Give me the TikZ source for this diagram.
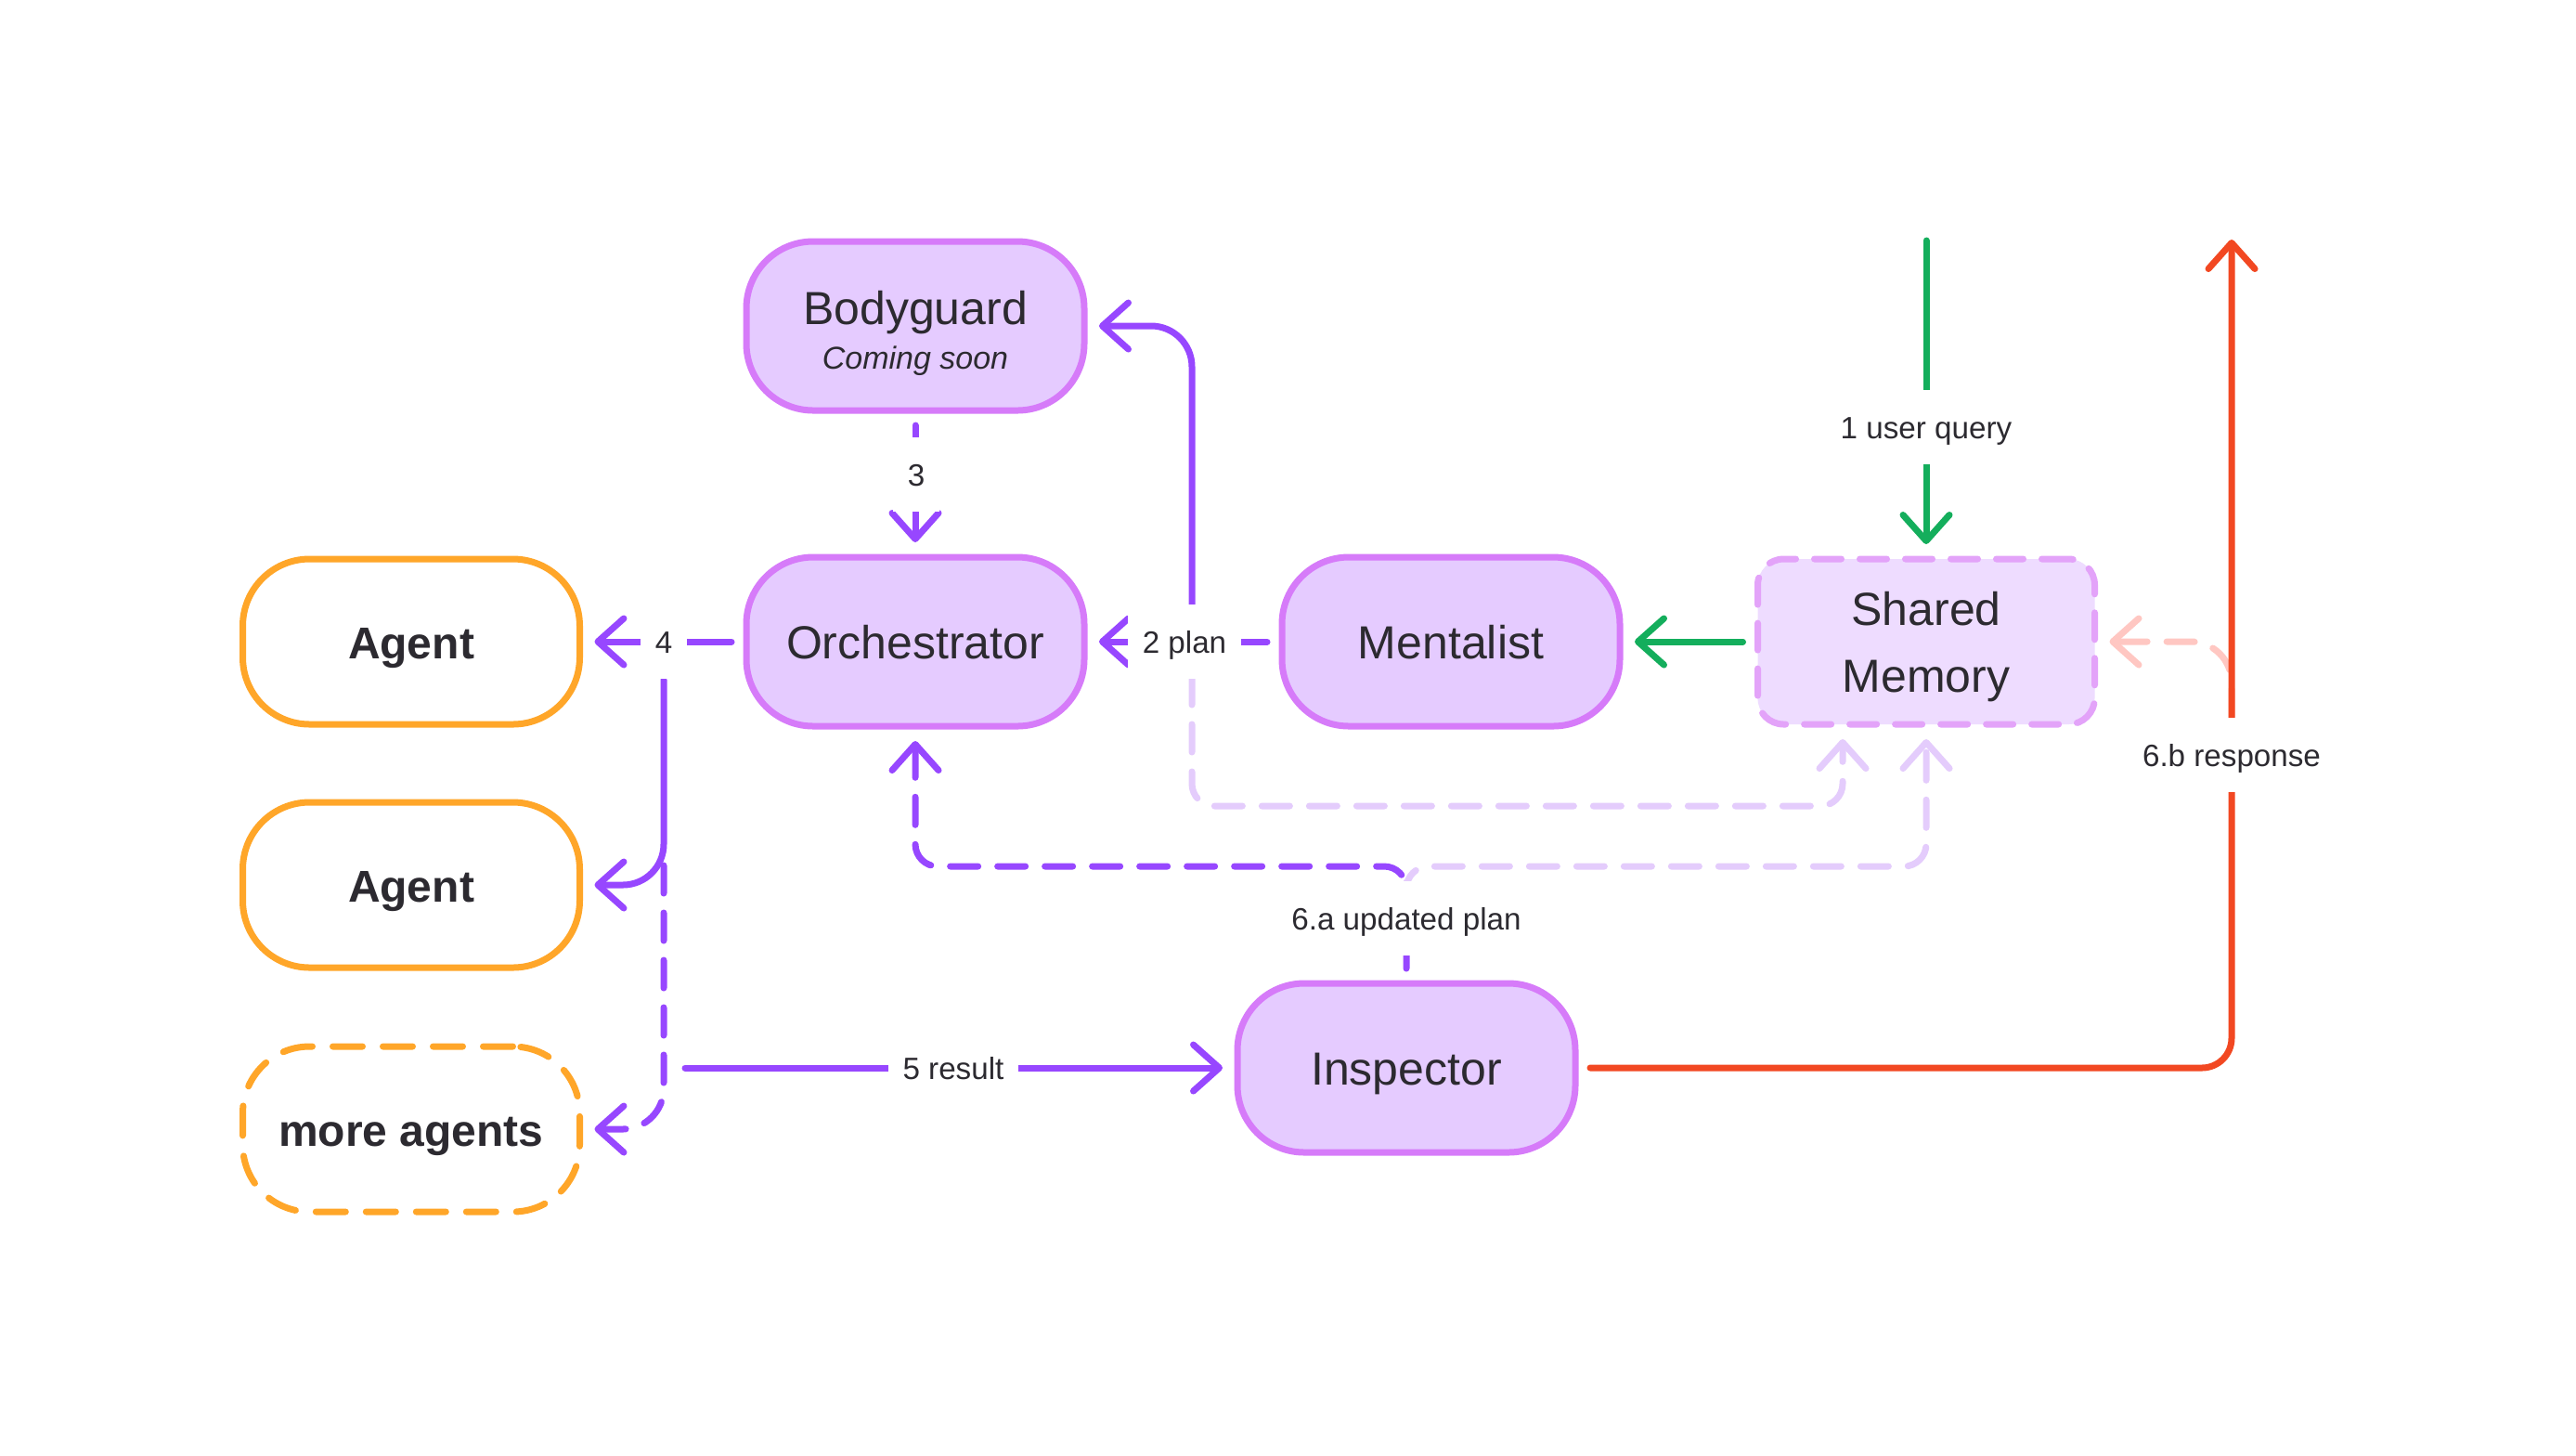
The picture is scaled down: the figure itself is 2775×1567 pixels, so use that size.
\documentclass[tikz,border=0pt]{standalone}
\usepackage{fontspec}
\setmainfont{Liberation Sans}
\usetikzlibrary{arrows.meta}
\pgfdeclarelayer{bgl}
\pgfsetlayers{bgl,main}
\definecolor{pfill}{HTML}{E5CBFF}
\definecolor{pline}{HTML}{D67BF9}
\definecolor{parrow}{HTML}{9747FF}
\definecolor{plight}{HTML}{E4CCFC}
\definecolor{smfill}{HTML}{EEDCFF}
\definecolor{smline}{HTML}{E3A3F9}
\definecolor{grn}{HTML}{14AE5C}
\definecolor{rd}{HTML}{F24822}
\definecolor{org}{HTML}{FFA629}
\definecolor{pk}{HTML}{FFC7C2}
\definecolor{txt}{HTML}{2C2A30}
\tikzset{
  basebox/.style={draw=pline, fill=pfill, line width=1.75pt, rounded corners=18pt,
    minimum width=91pt, minimum height=45.5pt, inner sep=0pt, outer sep=4pt, text=txt,
    font=\fontsize{12.5}{15}\selectfont},
  box/.style={basebox, text height=9pt, text depth=0pt},
  agentbox/.style={box, draw=org, fill=white, minimum width=90.75pt, minimum height=44.5pt,
    font=\bfseries\fontsize{12}{15}\selectfont},
  membox/.style={basebox, draw=smline, fill=smfill, rounded corners=7pt,
    minimum width=90.75pt, minimum height=44.5pt, dash pattern=on 7.25pt off 5pt,
    line cap=round, align=center, font=\fontsize{12.5}{18}\selectfont, text depth=0pt},
  lbl/.style={fill=white, inner xsep=4pt, inner ysep=7pt, text=txt,
    font=\fontsize{8.3}{10}\selectfont, text height=6pt, text depth=0pt},
  conn/.style={line width=1.75pt, line cap=round, line join=round,
    -{Straight Barb[length=7pt,width=12.5pt,round]}},
  dsh/.style={dash pattern=on 7.5pt off 5.25pt},
  pa/.style={conn, draw=parrow},
}
\begin{document}
\begin{tikzpicture}[x=0.25pt,y=-0.25pt]
\useasboundingbox (0,0) rectangle (2775,1567);
% boxes
\node[box] (bg) at (986,351) {};
\node[anchor=base, text=txt, font=\fontsize{12.5}{15}\selectfont, inner sep=0pt] (bgt) at (986,349) {Bodyguard};
\node[anchor=base, text=txt, font=\itshape\fontsize{8.5}{10}\selectfont, inner sep=0pt] (bgs) at (986,397) {Coming soon};
\node[box] (orch) at (986,691) {Orchestrator};
\node[box] (ment) at (1563,691) {Mentalist};
\node[membox] (sm) at (2075,691) {Shared\\Memory};
\node[box] (insp) at (1515,1150) {Inspector};
\node[agentbox] (ag1) at (443,691) {Agent};
\node[agentbox] (ag2) at (443,953) {Agent};
\node[agentbox, dash pattern=on 8pt off 5.5pt, line cap=round] (more) at (443,1216) {more agents};
% labels
\node[lbl] (l1) at (2075,460) {1 user query};
\node[lbl] (l2) at (1276,691) {2 plan};
\node[lbl] (l3) at (987,511) {3};
\node[lbl] (l4) at (715,691) {4};
\node[lbl] (l5) at (1027,1150) {5 result};
\node[lbl] (l6a) at (1515,989) {6.a updated plan};
\node[lbl] (l6b) at (2404,813) {6.b response};
% coordinates
\coordinate (uq) at (2075,259);
\coordinate (pb) at (1284,653);
\coordinate (pc) at (1284,729);
\coordinate (p4) at (715,732);
\coordinate (j4) at (715,932);
\coordinate (r5) at (738,1150);
\coordinate (ja) at (1515,933);
\coordinate (jb) at (986,933);
\coordinate (jc) at (1284,868);
\coordinate (jd) at (1515,950);
\coordinate (rc) at (2404,1150);
\coordinate (rtop) at (2404,258);
\coordinate (pr) at (2404,772);
\coordinate (pk2) at (2404,691);
\begin{pgfonlayer}{bgl}
\fill[white] (0,0) rectangle (2775,1567);
\draw[conn, draw=plight, dsh, rounded corners=6pt] (pc) -- (jc) -| ([xshift=-22.5pt]sm.south);
\draw[conn, draw=plight, dsh, rounded corners=6pt] (jd) -- (ja) -| (sm.south);
\draw[conn, draw=pk, dsh, rounded corners=11pt] (pr) -- (pk2) -- (sm.east);
\draw[conn, draw=grn] (uq) -- (sm.north);
\draw[conn, draw=grn] (sm.west) -- (ment.east);
\draw[pa] (ment.west) -- (orch.east);
\draw[pa, rounded corners=11pt] (pb) |- (bg.east);
\draw[pa] (bg.south) -- (orch.north);
\draw[pa] (orch.west) -- (ag1.east);
\draw[pa, rounded corners=11pt] (p4) |- (ag2.east);
\draw[pa, dsh, rounded corners=11pt] (j4) |- (more.east);
\draw[pa] (r5) -- (insp.west);
\draw[pa, dsh, rounded corners=6pt] (insp.north) -- (ja) -- (jb) -- (orch.south);
\draw[conn, draw=rd, rounded corners=8pt] (insp.east) -- (rc) -- (rtop);
\end{pgfonlayer}
\end{tikzpicture}
\end{document}
